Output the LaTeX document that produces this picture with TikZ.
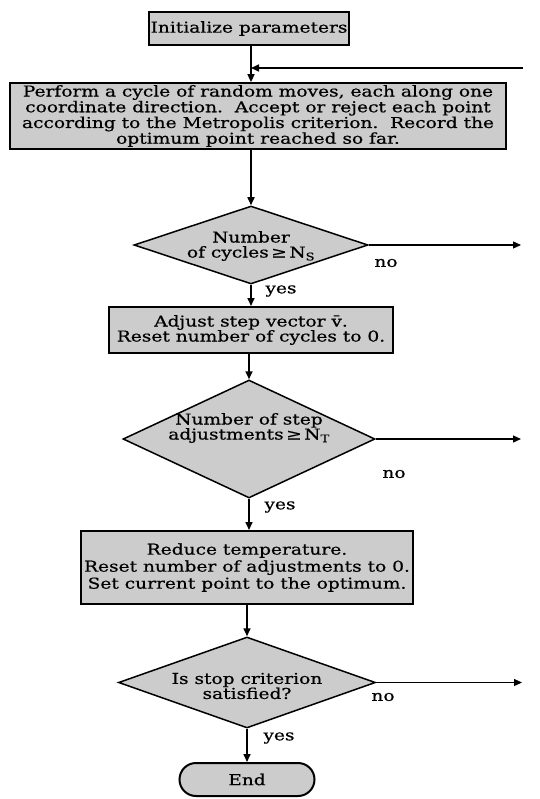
\documentclass[tikz,border=0pt]{standalone}
\usepackage{fontspec}
\setmainfont{DejaVu Serif}[FakeStretch=1.24,FakeBold=0.6]
\usetikzlibrary{shapes.geometric,arrows.meta}
\begin{document}
\begin{tikzpicture}[x=1pt,y=-1pt,
  every node/.style={font=\fontsize{15pt}{15pt}\selectfont},
  box/.style={draw,line width=2pt,fill=black!20,inner sep=2pt,align=center},
  dia/.style={draw,diamond,line width=1.5pt,fill=black!20,inner sep=0pt},
  dtext/.style={align=center,inner sep=0pt},
  arr/.style={line width=1.6pt,-{Triangle[length=8pt,width=7pt]}},
  arrthin/.style={line width=1.2pt,-{Triangle[length=8pt,width=7pt]}},
  lab/.style={inner sep=0pt}]
\useasboundingbox (0,0) rectangle (539,799);

\node[box,minimum width=198pt,minimum height=33pt] (init) at (249,28.5) {Initialize parameters};
\node[box,minimum width=496pt,minimum height=56pt,font=\fontsize{15pt}{13pt}\selectfont] (perform) at (258,116)
  {Perform a cycle of random moves, each along one\\
   coordinate direction.\ \ Accept or reject each point\\
   according to the Metropolis criterion.\ \ Record the\\
   optimum point reached so far.};
\node[dia,minimum width=234pt,minimum height=78pt] (d1) at (251,245) {};
\node[dtext] (d1t) at (251,246) {Number\\of cycles\,≥\,N\textsubscript{S}};
\node[box,minimum width=284pt,minimum height=46pt,font=\fontsize{15pt}{15pt}\selectfont] (adjust) at (251,330)
  {Adjust step vector \={v}.\\Reset number of cycles to 0.};
\node[dia,minimum width=252pt,minimum height=118pt] (d2) at (249,439) {};
\node[dtext] (d2t) at (249,428) {Number of step\\adjustments\,≥\,N\textsubscript{T}};
\node[box,minimum width=332pt,minimum height=73pt,font=\fontsize{15pt}{17pt}\selectfont] (reduce) at (247,567.5)
  {Reduce temperature.\\Reset number of adjustments to 0.\\Set current point to the optimum.};
\node[dia,minimum width=257pt,minimum height=91pt] (d3) at (247,682.5) {};
\node[dtext] (d3t) at (247,686) {Is stop criterion\\satisfied?};
\node[box,rounded corners=16.5pt,minimum width=135pt,minimum height=33pt] (end) at (247,779.5) {End};

\coordinate (J) at (251,68);
\coordinate (rin) at (523,68);
\coordinate (o1) at (521,245);
\coordinate (o2) at (521,439);
\coordinate (o3) at (522,682.5);

\draw[arr] (init.south -| J) -- (J |- perform.north);
\draw[arr] (rin) -- (J);
\draw[arr] (perform.south -| d1.north) -- (d1.north);
\draw[arr] (d1.south) -- (d1.south |- adjust.north);
\draw[arr] (adjust.south -| d2.north) -- (d2.north);
\draw[arr] (d2.south) -- (d2.south |- reduce.north);
\draw[arr] (reduce.south -| d3.north) -- (d3.north);
\draw[arr] (d3.south) -- (d3.south |- end.north);

\draw[arrthin] (d1.east) -- (o1);
\draw[arrthin] (d2.east) -- (o2);
\draw[arrthin] (d3.east) -- (o3);

\node[lab] (no1) at (386,263) {no};
\node[lab] (no2) at (394,474) {no};
\node[lab] (no3) at (383,697) {no};
\node[lab] (yes1) at (281,291) {yes};
\node[lab] (yes2) at (280,507) {yes};
\node[lab] (yes3) at (279,738) {yes};
\end{tikzpicture}
\end{document}
